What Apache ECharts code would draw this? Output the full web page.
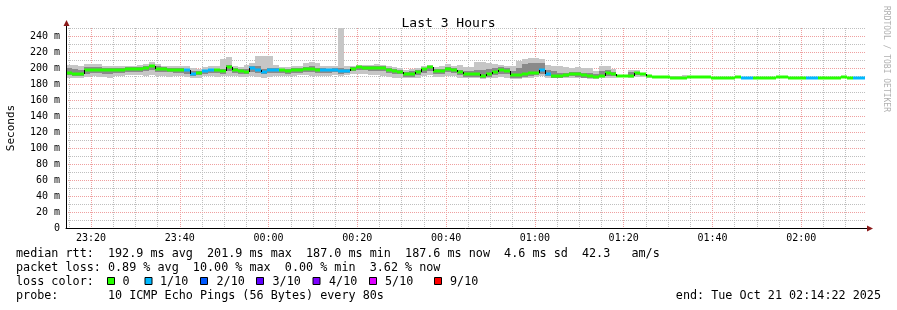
<!DOCTYPE html>
<html><head><meta charset="utf-8">
<script src="https://cdn.jsdelivr.net/npm/echarts@6/dist/echarts.min.js"></script>
<style>html,body{margin:0;padding:0;background:#fff}#c{width:897px;height:310px}</style>
</head><body><div id="c"></div>
<script>
// ---- data (80 s steps starting 2025-10-20 23:14:22) ----
const medianRtt = [
  194, 193, 193, 197, 198, 198, 197.5, 197.5, 198, 197,
  199, 199, 199, 200, 201.9, 199, 199, 198, 198, 198,
  197, 193, 194, 196, 197.5, 197.5, 196.5, 201.5, 197.5, 196,
  195, 200, 198, 195.5, 197.5, 197.5, 197, 196.5, 198, 197,
  198.5, 198.5, 197.5, 197, 197, 198, 196.5, 196.5, 199, 200.8,
  200.5, 200, 200, 200, 198, 196.7, 195, 192.5, 192.5, 195,
  198.7, 201, 196, 196.5, 198.7, 197.5, 195, 192.5, 192.5, 192.5,
  190, 192.5, 195, 198, 196, 191, 191, 192.5, 193.5, 194,
  197, 192.5, 190.4, 190.4, 191.5, 193, 192, 191, 189.5, 188.5,
  190.5, 194, 193, 190, 190, 190, 194, 193, 189.5, 189.2,
  189.2, 189, 188, 188, 188, 188.5, 189, 189, 188.5, 188,
  188, 187.5, 187.5, 189, 188, 188, 187.5, 187.5, 187.5, 187.5,
  188.5, 189, 188, 188, 188, 188, 188, 187.5, 187.5, 187.5,
  188, 189, 188, 187.6, 187.6
];
const smokeMax = [
  204, 204, 203, 205, 205, 205, 203, 203, 202, 203,
  203, 203, 204, 205, 207, 205, 203, 203, 202, 202,
  202, 200, 199, 201, 202, 202, 211, 214, 202, 201,
  204, 206, 215, 215, 215, 204, 201, 201, 203, 203,
  206, 207, 206, 203, 202, 202, 250, 202, 203, 204,
  204, 204, 205, 204, 202, 201, 200, 198, 199, 200,
  203, 204, 201, 202, 205, 203, 204, 201, 201, 207,
  207, 206, 205, 204, 203, 203, 209, 211, 212, 212,
  211, 204, 202, 202, 201, 200, 201, 200, 200, 196,
  202.5, 202.5, 199, 191, 191, 197.5, 197.5, 194, 191, 190.5,
  190.5, 190, 189.5, 190, 191, 190, 190.5, 190.5, 189.5, 189,
  189, 188.5, 188.5, 190, 189, 189, 188.5, 188.5, 188.5, 188.5,
  189.5, 190, 189, 189, 189, 189, 189, 188.5, 188.5, 188.5,
  189, 190, 189, 188.5, 188.5
];
const smokeMin = [
  188, 187, 187, 189, 190, 189, 189, 188, 190, 190,
  191, 191, 191, 190, 191, 190, 190, 189, 190, 190,
  189, 188, 188, 190, 190, 189, 190, 190, 190, 189,
  189, 190, 189, 188, 189, 190, 190, 190, 190, 191,
  191, 190, 190, 190, 190, 191, 190, 191, 192, 193,
  192, 191, 191, 190, 189, 188, 188, 187, 187, 188,
  190, 191, 189, 189, 190, 190, 188, 187, 187, 187,
  186, 187, 188, 189, 188, 186, 186, 187, 188, 189,
  190, 188, 187, 187, 187, 188, 187, 187, 186, 186,
  187, 188, 188, 189, 189, 188, 189, 189, 188, 188,
  188.5, 188.3, 187.4, 187.4, 187.4, 187.8, 188.3, 188.3, 187.8, 187.4,
  187.4, 187, 187, 188.3, 187.4, 187.4, 187, 187, 187, 187,
  187.8, 188.3, 187.4, 187.4, 187.4, 187.4, 187.4, 187, 187, 187,
  187.4, 188.3, 187.4, 187, 187
];
const smokeHi = [
  200, 199, 198, 201, 201, 201, 200, 200, 200, 200,
  201, 201, 201, 202, 204, 202, 201, 200, 200, 200,
  199, 196, 196, 198, 199, 199, 199, 204, 200, 199,
  199, 202, 202, 199, 200, 200, 199, 199, 200, 200,
  201, 202, 200, 200, 199, 200, 200, 199, 201, 202,
  202, 202, 202, 202, 200, 199, 198, 195, 196, 198,
  200, 203, 199, 199, 201, 200, 198, 196, 196, 198,
  198, 199, 200, 201, 200, 196, 200, 205, 206, 206,
  206, 198, 196, 194, 194, 195, 195, 194, 194, 192,
  196, 197, 195, 190.5, 190.5, 195, 195, 193.5, 190.5, 190,
  189.7, 189.5, 188.5, 188.5, 188.5, 189, 189.5, 189.5, 189, 188.5,
  188.5, 188, 188, 189.5, 188.5, 188.5, 188, 188, 188, 188,
  189, 189.5, 188.5, 188.5, 188.5, 188.5, 188.5, 188, 188, 188,
  188.5, 189.5, 188.5, 188.1, 188.1
];
const smokeLo = [
  191, 190, 190, 193, 194, 194, 193, 193, 194, 194,
  195, 195, 195, 196, 197, 195, 195, 195, 194, 194,
  193, 190, 191, 193, 194, 194, 193, 196, 194, 193,
  192, 195, 194, 192, 194, 194, 194, 193, 194, 194,
  195, 195, 194, 194, 194, 195, 193, 194, 196, 197,
  197, 196, 196, 196, 194, 193, 192, 189, 189, 191,
  194, 196, 192, 193, 195, 194, 191, 189, 189, 189,
  188, 189, 191, 193, 192, 188, 188, 189, 190, 191,
  192, 190, 188, 188, 189, 190, 189, 188, 188, 187,
  188.5, 190, 190, 189.5, 189.5, 189.5, 191, 191, 189, 188.5,
  188.9, 188.7, 187.7, 187.7, 187.7, 188.2, 188.7, 188.7, 188.2, 187.7,
  187.7, 187.2, 187.2, 188.7, 187.7, 187.7, 187.2, 187.2, 187.2, 187.2,
  188.2, 188.7, 187.7, 187.7, 187.7, 187.7, 187.7, 187.2, 187.2, 187.2,
  187.7, 188.7, 187.7, 187.3, 187.3
];
const lossCount = [
  0,0,0,0,0,0,0,0,0,0,
  0,0,0,0,0,0,0,0,0,0,
  1,1,0,1,1,0,0,0,0,0,
  0,1,1,1,1,1,0,0,0,0,
  0,0,0,1,1,1,1,1,0,0,
  0,0,0,0,0,0,0,0,0,0,
  0,0,0,0,0,0,0,0,0,0,
  0,0,0,0,0,0,0,0,0,0,
  1,1,0,0,0,0,0,0,0,0,
  0,0,0,0,0,0,0,0,0,0,
  0,0,0,0,0,0,0,0,0,0,
  0,0,0,0,1,1,0,0,0,0,
  0,0,0,0,0,1,1,0,0,0,
  0,0,0,1,1
];
const lossLevels = [0, 1, 2, 3, 4, 5, 9];
const lossLabels = ['0', '1/10', '2/10', '3/10', '4/10', '5/10', '9/10'];
const lossColors = ['#26ff00', '#00b8ff', '#0059ff', '#5e00ff', '#7e00ff', '#dd00ff', '#ff0000'];
const xTickLabels = ['23:20', '23:40', '00:00', '00:20', '00:40', '01:00', '01:20', '01:40', '02:00'];
const yTicks = [0, 20, 40, 60, 80, 100, 120, 140, 160, 180, 200, 220, 240];
const yMinorTicks = [10, 30, 50, 70, 90, 110, 130, 150, 170, 190, 210, 230, 250];
const legendRows = [
  'median rtt:  192.9 ms avg  201.9 ms max  187.0 ms min  187.6 ms now  4.6 ms sd  42.3   am/s',
  'packet loss: 0.89 % avg  10.00 % max  0.00 % min  3.62 % now',
  'loss color:',
  'probe:       10 ICMP Echo Pings (56 Bytes) every 80s'
];
const endLabel = 'end: Tue Oct 21 02:14:22 2025';

const startTime = new Date(2025, 9, 20, 23, 14, 22).getTime();
const stepMs = 80000;
const endTime = startTime + medianRtt.length * stepMs;
const MIN = 60000;

function labelToTime(l) {
  const [h, m] = l.split(':').map(Number);
  return h >= 12 ? new Date(2025, 9, 20, h, m, 0).getTime() : new Date(2025, 9, 21, h, m, 0).getTime();
}
const majorTicks = xTickLabels.map(labelToTime);
const minorTicks = [];
for (let t = majorTicks[0] - 5 * MIN; t < endTime; t += 5 * MIN) if (t > startTime && majorTicks.indexOf(t) < 0) minorTicks.push(t);

function colorFor(loss) {
  let c = lossColors[0];
  for (let k = 0; k < lossLevels.length; k++) if (loss >= lossLevels[k]) c = lossColors[k];
  return c;
}
const seriesData = medianRtt.map((m, i) => [
  startTime + i * stepMs, startTime + (i + 1) * stepMs, m,
  smokeMin[i], smokeMax[i], smokeLo[i], smokeHi[i], lossCount[i],
  i > 0 ? medianRtt[i - 1] : m
]);

function renderItem(params, api) {
  const t0 = api.value(0), t1 = api.value(1);
  const m = api.value(2), lo = api.value(3), hi = api.value(4);
  const dlo = api.value(5), dhi = api.value(6), loss = api.value(7), pm = api.value(8);
  const R = Math.round;
  const a = api.coord([t0, hi]), b = api.coord([t1, lo]);
  const c = api.coord([t0, dhi]), d = api.coord([t1, dlo]);
  const p = api.coord([t0, m]), pp = api.coord([t0, pm]);
  const x0 = R(a[0]), x1 = R(b[0]);
  const children = [
    {type: 'rect', shape: {x: x0, y: R(a[1]), width: x1 - x0, height: R(b[1]) - R(a[1])}, style: {fill: '#c6c6c6'}},
    {type: 'rect', shape: {x: x0, y: R(c[1]), width: x1 - x0, height: Math.max(1, R(d[1]) - R(c[1]))}, style: {fill: '#8a8a8a'}},
    {type: 'rect', shape: {x: x0, y: R(p[1]) - 1.5, width: x1 - x0, height: 3}, style: {fill: colorFor(loss)}}
  ];
  if (Math.abs(pp[1] - p[1]) >= 2) {
    children.push({type: 'line', shape: {x1: x0 + 0.5, y1: R(pp[1]), x2: x0 + 0.5, y2: R(p[1])}, style: {stroke: '#000', lineWidth: 1}});
  }
  return {type: 'group', children};
}

const FONT = 'DejaVu Sans Mono';
const chart = echarts.init(document.getElementById('c'), null, {renderer: 'canvas'});
const gridL = 66, gridT = 28, gridR = 32, gridB = 82;

const legendGraphics = [];
const TF = '11.75px "' + FONT + '"';
function txt(x, y, s, align) {
  legendGraphics.push({
    type: 'text', x: x, y: y,
    style: {text: s, fill: '#000', font: TF, align: align || 'left', verticalAlign: 'middle'}
  });
}
const rowY = [254, 268, 282, 296];
legendRows.forEach((r, k) => txt(16, rowY[k], r));
const sqX = [107.5, 145, 200.5, 256.5, 313, 369.5, 434.5];
const lbX = [122.5, 160, 216.5, 272.5, 329, 385, 450];
lossLabels.forEach((l, k) => {
  legendGraphics.push({type: 'rect', shape: {x: sqX[k], y: 277.5, width: 7, height: 7},
    style: {fill: lossColors[k], stroke: '#000', lineWidth: 1}});
  txt(lbX[k], 282, l);
});
txt(881, 296, endLabel, 'right');
// watermark
legendGraphics.push({type: 'text', x: 886, y: 59, rotation: -Math.PI / 2,
  style: {text: 'RRDTOOL / TOBI OETIKER', fill: '#b0b0b0', font: '8px "' + FONT + '"', align: 'center', verticalAlign: 'middle'}});
// axis arrows
legendGraphics.push({type: 'line', shape: {x1: gridL + 0.5, y1: gridT, x2: gridL + 0.5, y2: gridT - 3}, style: {stroke: '#000'}});
legendGraphics.push({type: 'line', shape: {x1: 897 - gridR, y1: 310 - gridB + 0.5, x2: 897 - gridR + 3, y2: 310 - gridB + 0.5}, style: {stroke: '#000'}});
legendGraphics.push({type: 'polygon', shape: {points: [[gridL - 2.5, gridT - 2], [gridL + 3.5, gridT - 2], [gridL + 0.5, gridT - 8]]}, style: {fill: '#8b1a1a'}});
legendGraphics.push({type: 'polygon', shape: {points: [[897 - gridR + 2, 310 - gridB - 2.5], [897 - gridR + 2, 310 - gridB + 3.5], [897 - gridR + 8, 310 - gridB + 0.5]]}, style: {fill: '#8b1a1a'}});

const MAJOR = '#efa0a0', MINOR = '#bfbfbf';
chart.setOption({
  backgroundColor: '#ffffff',
  animation: false,
  title: {text: 'Last 3 Hours', left: 'center', top: 12,
    textStyle: {fontFamily: FONT, fontSize: 13, fontWeight: 'normal', color: '#000'}},
  grid: {left: gridL, top: gridT, right: gridR, bottom: gridB, containLabel: false, outerBoundsMode: 'none'},
  xAxis: [
    {type: 'value', min: startTime, max: endTime, z: 2,
      axisLine: {show: true, onZero: false, lineStyle: {color: '#000', width: 1}},
      axisTick: {show: false, customValues: majorTicks},
      axisLabel: {fontFamily: FONT, fontSize: 10, color: '#000', margin: 5, hideOverlap: false,
        customValues: majorTicks,
        formatter: v => xTickLabels[majorTicks.indexOf(v)] || ''},
      splitLine: {show: true, lineStyle: {color: MAJOR, type: [1, 1], width: 1}}},
    {type: 'value', min: startTime, max: endTime, z: 1, position: 'bottom',
      axisLine: {show: false}, axisTick: {show: false, customValues: minorTicks},
      axisLabel: {show: false, customValues: minorTicks},
      splitLine: {show: true, lineStyle: {color: MINOR, type: [1, 1], width: 1}}}
  ],
  yAxis: [
    {type: 'value', min: 0, max: 250, z: 2,
      name: 'Seconds', nameLocation: 'middle', nameGap: 49, nameRotate: 90,
      nameTextStyle: {fontFamily: FONT, fontSize: 11, color: '#000'},
      axisLine: {show: true, lineStyle: {color: '#000', width: 1}},
      axisTick: {show: false, customValues: yTicks},
      axisLabel: {fontFamily: FONT, fontSize: 10, color: '#000', margin: 6, customValues: yTicks,
        formatter: v => (v === 0 ? '0' : v + ' m')},
      splitLine: {show: true, lineStyle: {color: MAJOR, type: [1, 1], width: 1}}},
    {type: 'value', min: 0, max: 250, z: 1, position: 'left',
      axisLine: {show: false}, axisTick: {show: false, customValues: yMinorTicks},
      axisLabel: {show: false, customValues: yMinorTicks},
      splitLine: {show: true, lineStyle: {color: MINOR, type: [1, 1], width: 1}}}
  ],
  series: [{
    type: 'custom', renderItem: renderItem, data: seriesData, xAxisIndex: 0, yAxisIndex: 0,
    encode: {x: [0, 1], y: [2, 3, 4, 5, 6, 8]}, clip: true, silent: true
  }],
  graphic: legendGraphics
});
</script></body></html>
